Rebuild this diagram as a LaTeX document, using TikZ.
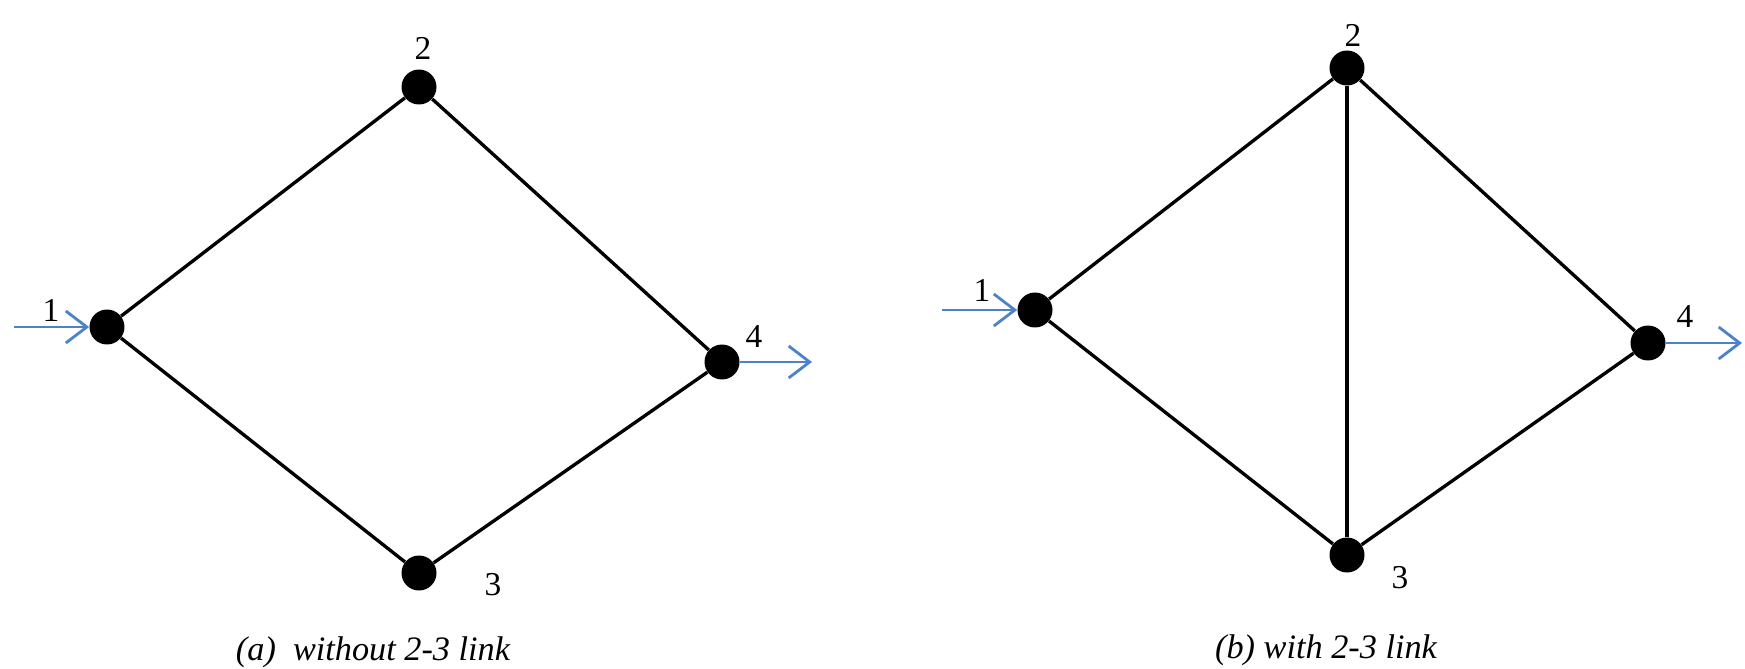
\documentclass[tikz,border=0pt]{standalone}
\usepackage{fontspec}
\setmainfont{Liberation Serif}
\usepackage{xcolor}
\usetikzlibrary{arrows.meta}
\definecolor{flowblue}{RGB}{75,130,200}

\begin{document}
\begin{tikzpicture}[x=0.02cm, y=-0.02cm,
    vertex/.style={circle, fill=black, inner sep=0pt, minimum size=0.7cm},
    link/.style={line width=1.9pt, black},
    flow/.style={line width=1.6pt, flowblue, -{Straight Barb[length=0.42cm, width=0.64cm, line width=1.6pt]}},
    num/.style={font=\fontsize{19}{22}\selectfont, inner sep=0pt},
    caption/.style={font=\fontsize{19.5}{22}\selectfont\itshape, inner sep=0pt}]
    \useasboundingbox (0,0) rectangle (1745,669);
    % (a) without 2-3 link
    \node[vertex] (a1) at (107,327) {};
    \node[vertex] (a2) at (419,87) {};
    \node[vertex] (a3) at (419,573) {};
    \node[vertex] (a4) at (722,362) {};
    \draw[link] (a1) -- (a2) -- (a4) -- (a3) -- (a1);
    \coordinate (a-in) at (14,327);
    \coordinate (a-out) at (812,362);
    \draw[flow] (a-in) -- (a1);
    \draw[flow] (a4) -- (a-out);
    \node[num] (a1-lbl) at (51,310) {1};
    \node[num] (a2-lbl) at (423,48) {2};
    \node[num] (a3-lbl) at (493,585) {3};
    \node[num] (a4-lbl) at (754,337) {4};
    \node[caption] (a-cap) at (373,652) {(a)\ \ without 2-3 link};
    % (b) with 2-3 link
    \node[vertex] (b1) at (1035,310) {};
    \node[vertex] (b2) at (1347,68) {};
    \node[vertex] (b3) at (1347,555) {};
    \node[vertex] (b4) at (1648,343) {};
    \draw[link] (b1) -- (b2) -- (b4) -- (b3) -- (b1);
    \draw[link] (b2) -- (b3);
    \coordinate (b-in) at (942,310);
    \coordinate (b-out) at (1742,343);
    \draw[flow] (b-in) -- (b1);
    \draw[flow] (b4) -- (b-out);
    \node[num] (b1-lbl) at (982,290) {1};
    \node[num] (b2-lbl) at (1353,35) {2};
    \node[num] (b3-lbl) at (1400,578) {3};
    \node[num] (b4-lbl) at (1685,317) {4};
    \node[caption] (b-cap) at (1326,650) {(b) with 2-3 link};
\end{tikzpicture}
\end{document}
